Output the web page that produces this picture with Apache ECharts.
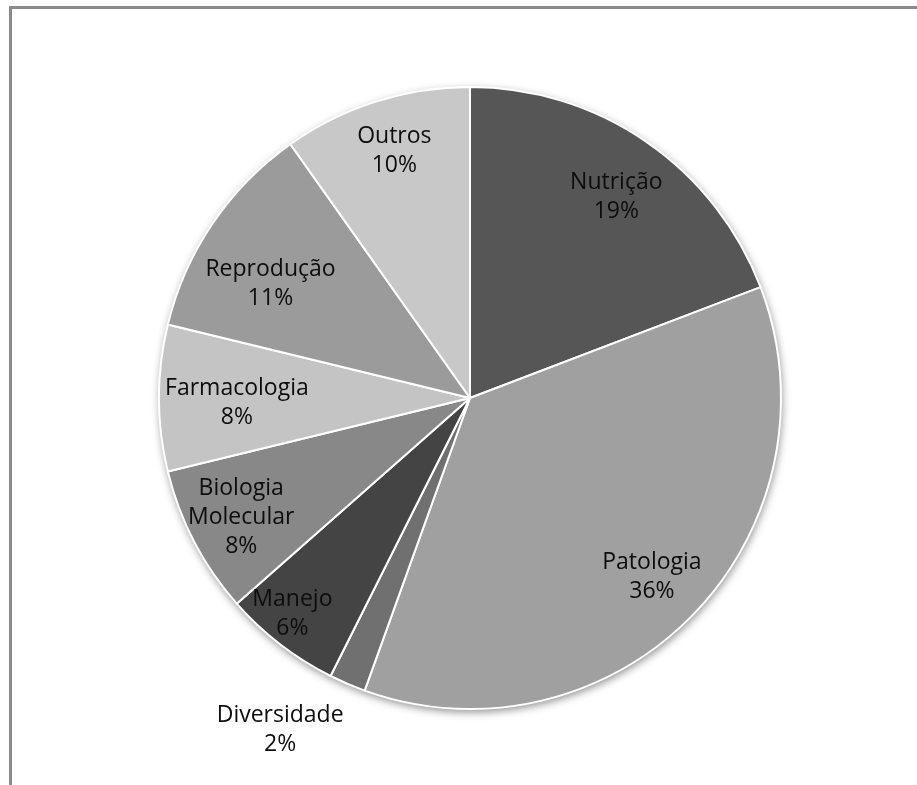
<!DOCTYPE html>
<html><head><meta charset="utf-8">
<script src="https://cdn.jsdelivr.net/npm/echarts@6/dist/echarts.min.js"></script>
<style>html,body{margin:0;padding:0;background:#fff}#wrap{position:relative;width:917px;height:785px}#c{width:917px;height:785px;position:absolute;left:0;top:0}
#frame{position:absolute;left:9px;top:6px;width:1000px;height:1000px;border-left:3px solid #8a8a8a;border-top:3px solid #8a8a8a;box-sizing:border-box;pointer-events:none;z-index:10}</style>
</head><body><div id="wrap"><div id="c"></div><div id="frame"></div></div>
<script>
const categories = ['Nutrição','Patologia','Diversidade','Manejo','Biologia\nMolecular','Farmacologia','Reprodução','Outros'];
const values = [19.2, 36.3, 1.9, 6.1, 7.7, 7.6, 11.4, 9.8];
const colors = ['#565656','#a0a0a0','#707070','#444444','#888888','#c4c4c4','#9b9b9b','#c8c8c8'];
// label placement style: distance from centre (fraction of radius) and angular nudge (degrees)
const labelRadius = [0.79, 0.81, 1.22, 0.89, 0.82, 0.74, 0.73, 0.82];
const labelAngleShift = [1.5, 0, 6.6, 1.8, 0, -1.2, -4.4, 0.6];

const chart = echarts.init(document.getElementById('c'), null, {renderer:'canvas'});
const center = [470, 398];
const R = 311;
const total = values.reduce((a,b)=>a+b,0);
let cum = 0;
const base = categories.map((c,i)=>{
  const mid = (cum + values[i]/2)/total*2*Math.PI;
  cum += values[i];
  const a = mid + labelAngleShift[i]*Math.PI/180;
  const r = labelRadius[i]*R;
  // 'inside' labels sit at half radius along the mid angle; offset from there
  const ox = r*Math.sin(a) - (R/2)*Math.sin(mid);
  const oy = -r*Math.cos(a) + (R/2)*Math.cos(mid);
  return {name:c, value:values[i], itemStyle:{color:colors[i]},
    label:{offset:[ox, oy]}};
});

chart.setOption({
  animation:false,
  series:[
    {type:'pie', center, radius:[0,R], silent:true, clockwise:true, startAngle:90,
     data:[{value:1, itemStyle:{color:'#fff', shadowBlur:8, shadowOffsetX:1, shadowOffsetY:3, shadowColor:'rgba(0,0,0,0.45)'}}],
     label:{show:false}, labelLine:{show:false}, z:1},
    {type:'pie', center, radius:[0,R], clockwise:true, startAngle:90, silent:true,
     percentPrecision:0,
     itemStyle:{borderColor:'#ffffff', borderWidth:2},
     label:{show:true, position:'inside', formatter:'{b}\n{d}%', align:'center', verticalAlign:'middle',
            fontFamily:'Open Sans', fontSize:23, color:'#0d0d0d', lineHeight:29},
     labelLine:{show:false}, data:base, z:2}
  ]
});
</script></body></html>
